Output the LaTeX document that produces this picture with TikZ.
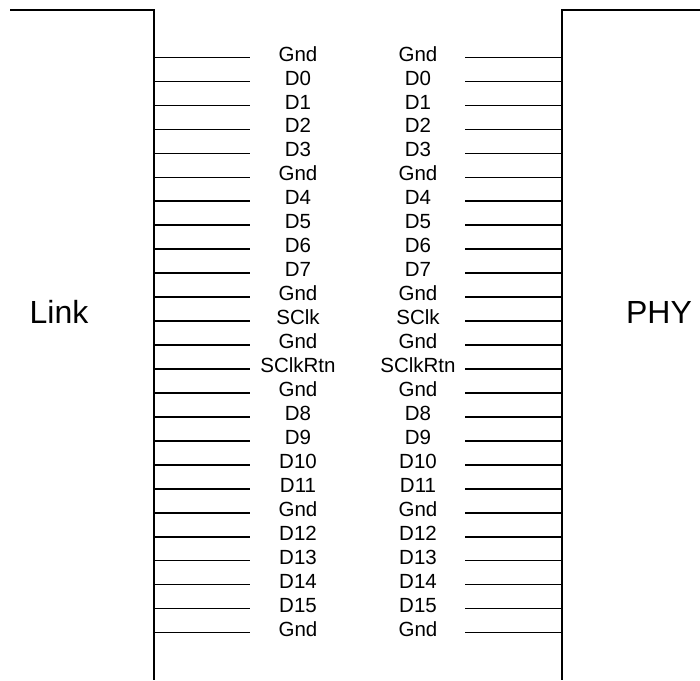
\documentclass[tikz,border=0pt]{standalone}
\usepackage{fontspec}
\setmainfont{Liberation Sans}
\begin{document}
\begin{tikzpicture}[x=1pt,y=-1pt,
  wire/.style={line width=1.6pt},
  frame/.style={line width=1.6pt},
  sig/.style={font=\fontsize{20.5}{22}\selectfont, inner sep=0pt,
    text height=0.72em, text depth=0pt, anchor=center},
  side/.style={font=\fontsize{32}{34}\selectfont, inner sep=0pt,
    text height=0.72em, text depth=0pt}]
\useasboundingbox (0,0) rectangle (700,680);
% the two chip outlines
\draw[frame] (10,10) -- (154,10) -- (154,680);
\draw[frame] (700,10) -- (562,10) -- (562,680);
\node[side] (link) at (59,320) {Link};
\node[side] (phy) at (659,320) {PHY};
% signal pins on both sides
\foreach \s [count=\i from 0] in {Gnd,D0,D1,D2,D3,Gnd,D4,D5,D6,D7,Gnd,SClk,Gnd,SClkRtn,Gnd,D8,D9,D10,D11,Gnd,D12,D13,D14,D15,Gnd} {
  \pgfmathsetmacro\yy{57.5+23.96*\i}
  \coordinate (lb\i) at (154,\yy);
  \coordinate (le\i) at (250,\yy);
  \node[sig] (ln\i) at (298,\yy) {\s};
  \node[sig] (rn\i) at (418,\yy) {\s};
  \coordinate (re\i) at (465,\yy);
  \coordinate (rb\i) at (562,\yy);
  \draw[wire] (lb\i) -- (le\i);
  \draw[wire] (re\i) -- (rb\i);
}
\end{tikzpicture}
\end{document}
